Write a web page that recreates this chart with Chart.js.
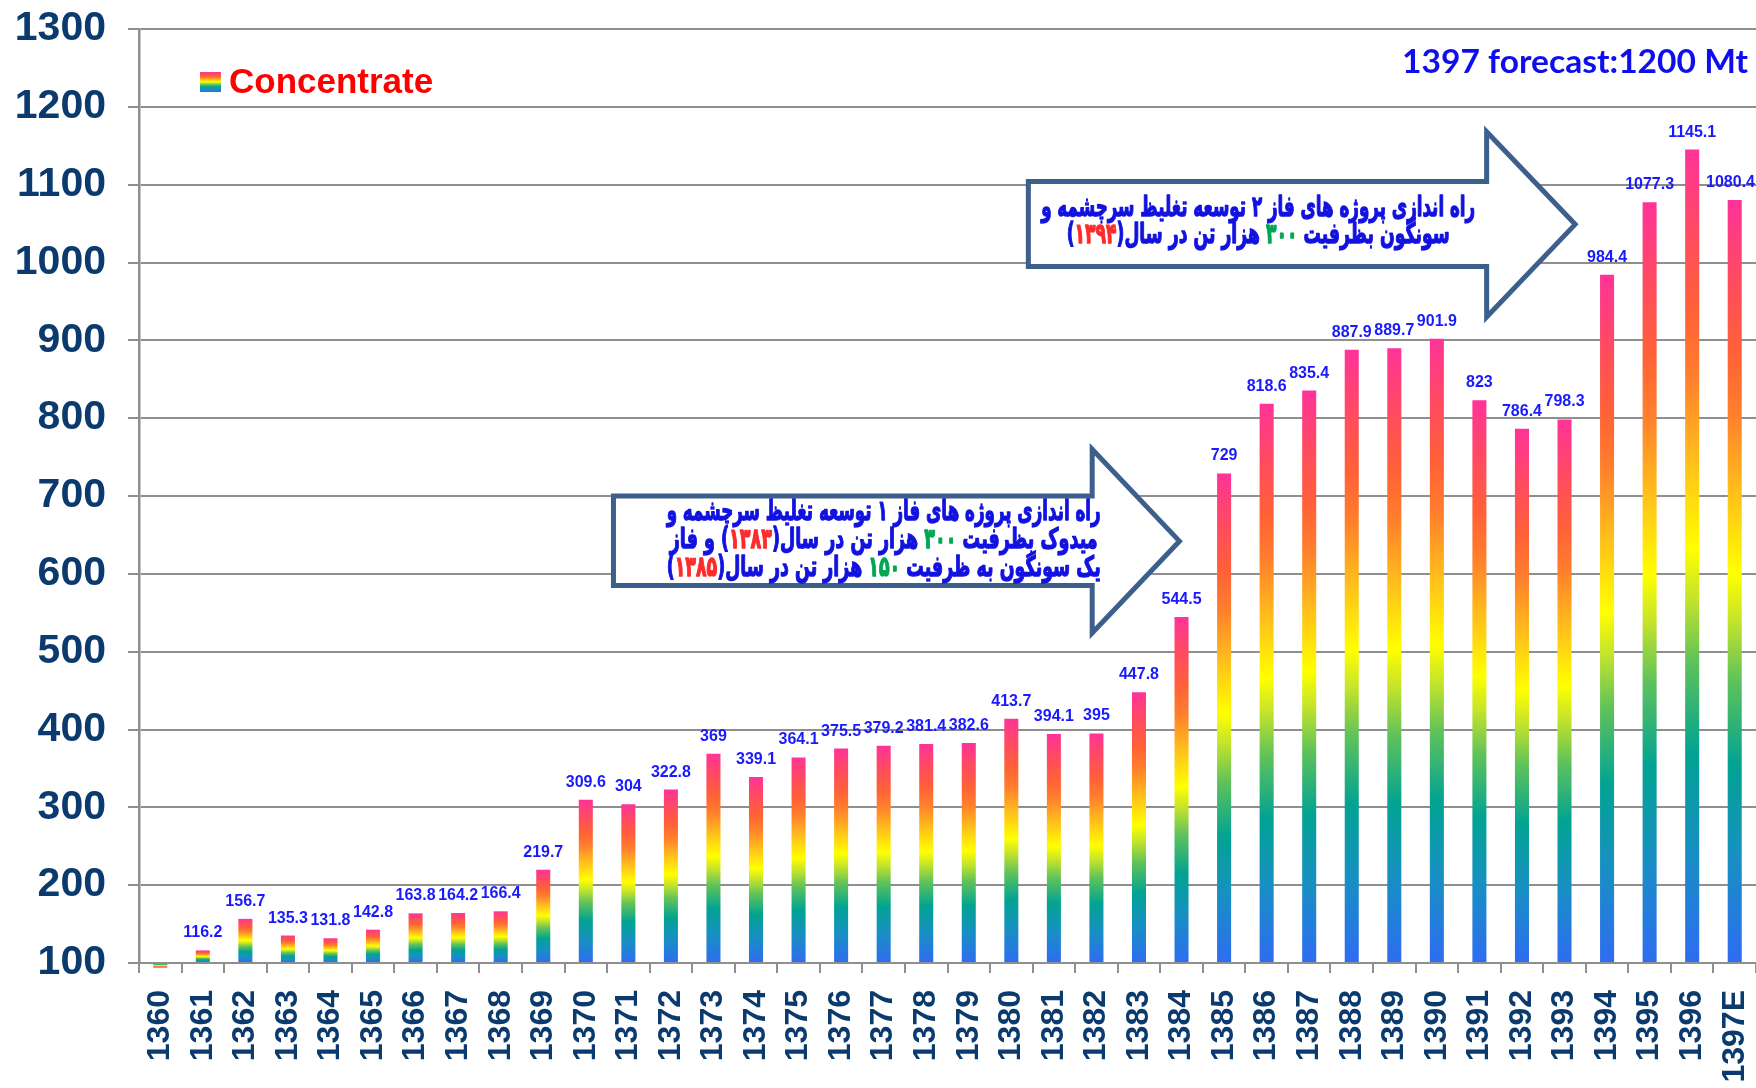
<!DOCTYPE html>
<html>
<head>
<meta charset="utf-8">
<script src="https://cdn.jsdelivr.net/npm/chart.js@4.4.1/dist/chart.umd.min.js"></script>
<style>
  html, body { margin: 0; padding: 0; background: #ffffff; }
  #ChartWrap { position: relative; width: 1756px; height: 1088px; }
</style>
</head>
<body>
<div id="ChartWrap"><canvas id="ConcentrateChart"></canvas></div>
<script>
// data
const years = [
  "1360", "1361", "1362", "1363", "1364", "1365", "1366", "1367", "1368", "1369",
  "1370", "1371", "1372", "1373", "1374", "1375", "1376", "1377", "1378", "1379",
  "1380", "1381", "1382", "1383", "1384", "1385", "1386", "1387", "1388", "1389",
  "1390", "1391", "1392", "1393", "1394", "1395", "1396", "1397E",
];
const concentrate = [
  94, 116.2, 156.7, 135.3, 131.8, 142.8, 163.8, 164.2, 166.4, 219.7,
  309.6, 304, 322.8, 369, 339.1, 364.1, 375.5, 379.2, 381.4, 382.6,
  413.7, 394.1, 395, 447.8, 544.5, 729, 818.6, 835.4, 887.9, 889.7,
  901.9, 823, 786.4, 798.3, 984.4, 1077.3, 1145.1, 1080.4,
];
const yTicks = [100, 200, 300, 400, 500, 600, 700, 800, 900, 1000, 1100, 1200, 1300];
const seriesName = "Concentrate";
const forecastNote = "1397 forecast:1200 Mt";

// arrow notes: each line is a list of [text, colour key], logical (right to left) order
const note1Lines = [
  [["راه اندازی پروژه های فاز ۱ توسعه تغلیظ سرچشمه و", "b"]],
  [["میدوک بظرفیت ", "b"], ["۳۰۰", "g"], [" هزار تن در سال(", "b"], ["۱۳۸۳", "r"], [") و فاز", "b"]],
  [["یک سونگون به ظرفیت ", "b"], ["۱۵۰", "g"], [" هزار تن در سال(", "b"], ["۱۳۸۵", "r"], [")", "b"]],
];
const note2Lines = [
  [["راه اندازی پروژه های فاز ۲ توسعه تغلیظ سرچشمه و", "b"]],
  [["سونگون بظرفیت ", "b"], ["۳۰۰", "g"], [" هزار تن در سال(", "b"], ["۱۳۹۴", "r"], [")", "b"]],
];

// styles
const navy = "#0a3a6e";
const gridGray = "#8f8f8f";
const labelBlue = "#1a1aff";
const noteColors = { b: "#1212e0", g: "#00a651", r: "#ff2a2a" };
const rainbowStops = [
  [0, "#2f6cf2"], [0.14, "#1790c2"], [0.26, "#02a392"], [0.37, "#5fc25a"],
  [0.45, "#c6e42a"], [0.51, "#ffff00"], [0.62, "#ffbd1c"], [0.72, "#ff7f2c"],
  [0.8, "#ff6137"], [0.9, "#ff4a62"], [1, "#ff3399"],
];

// arrow shapes in axis units (x: category index, y: value)
const arrow1 = { left: 10.65, base: 21.9, tip: 23.95, boxTop: 700, boxBottom: 585, headTop: 760, tipY: 642, headBottom: 524,
  textX: 17.0, textY: [679, 643, 607], widths: [434, 428, 434] };
const arrow2 = { left: 20.4, base: 31.17, tip: 33.25, boxTop: 1104, boxBottom: 995, headTop: 1168, tipY: 1049, headBottom: 930,
  textX: 25.8, textY: [1069, 1034], widths: [434, 383] };

function makeRainbow(ctx, yBottom, yTop) {
  const g = ctx.createLinearGradient(0, yBottom, 0, yTop);
  rainbowStops.forEach((s) => g.addColorStop(s[0], s[1]));
  return g;
}

function barColour(context) {
  const chart = context.chart;
  if (!chart.chartArea || context.type !== "data") return rainbowStops[0][1];
  const y = chart.scales.y;
  return makeRainbow(chart.ctx, y.getPixelForValue(yTicks[0]), y.getPixelForValue(context.raw));
}

function drawNoteLine(ctx, segs, rightX, y, width) {
  ctx.font = "bold 28px 'DejaVu Sans'";
  ctx.direction = "rtl";
  ctx.textAlign = "right";
  ctx.textBaseline = "middle";
  ctx.lineWidth = 1.3;
  ctx.lineJoin = "round";
  let total = 0;
  segs.forEach((s) => (total += ctx.measureText(s[0]).width));
  ctx.save();
  ctx.translate(rightX, y);
  ctx.scale(width / total, 1);
  let x = 0;
  segs.forEach((s) => {
    ctx.fillStyle = noteColors[s[1]];
    ctx.strokeStyle = noteColors[s[1]];
    ctx.fillText(s[0], x, 0);
    ctx.strokeText(s[0], x, 0);
    x -= ctx.measureText(s[0]).width;
  });
  ctx.restore();
}

function drawArrow(chart, a, lines) {
  const ctx = chart.ctx;
  const xs = chart.scales.x;
  const ys = chart.scales.y;
  const L = xs.getPixelForValue(a.left);
  const B = xs.getPixelForValue(a.base);
  const T = xs.getPixelForValue(a.tip);
  ctx.save();
  ctx.beginPath();
  ctx.moveTo(L, ys.getPixelForValue(a.boxTop));
  ctx.lineTo(B, ys.getPixelForValue(a.boxTop));
  ctx.lineTo(B, ys.getPixelForValue(a.headTop));
  ctx.lineTo(T, ys.getPixelForValue(a.tipY));
  ctx.lineTo(B, ys.getPixelForValue(a.headBottom));
  ctx.lineTo(B, ys.getPixelForValue(a.boxBottom));
  ctx.lineTo(L, ys.getPixelForValue(a.boxBottom));
  ctx.closePath();
  ctx.fillStyle = "#ffffff";
  ctx.fill();
  ctx.lineWidth = 5;
  ctx.lineJoin = "miter";
  ctx.strokeStyle = "#3c5f8c";
  ctx.stroke();
  const cx = xs.getPixelForValue(a.textX);
  lines.forEach((segs, i) => {
    drawNoteLine(ctx, segs, cx + a.widths[i] / 2, ys.getPixelForValue(a.textY[i]), a.widths[i]);
  });
  ctx.restore();
}

// plugins
const notesPlugin = {
  id: "notes",
  beforeDatasetsDraw(chart) {
    drawArrow(chart, arrow1, note1Lines);
    drawArrow(chart, arrow2, note2Lines);
  },
};

const valueLabelsPlugin = {
  id: "valueLabels",
  afterDatasetsDraw(chart) {
    const ctx = chart.ctx;
    const meta = chart.getDatasetMeta(0);
    ctx.save();
    ctx.font = "bold 16px 'Liberation Sans'";
    ctx.fillStyle = labelBlue;
    ctx.textAlign = "center";
    ctx.textBaseline = "alphabetic";
    meta.data.forEach((bar, i) => {
      const v = concentrate[i];
      if (v < yTicks[0]) return;
      const txt = String(v);
      // keep the last label inside the canvas
      const half = ctx.measureText(txt).width / 2;
      const x = Math.min(bar.x, chart.width - half - 1);
      ctx.fillText(txt, x, bar.y - 13);
    });
    ctx.restore();
  },
};

const legendPlugin = {
  id: "legendAndNote",
  afterDraw(chart) {
    const ctx = chart.ctx;
    const area = chart.chartArea;
    ctx.save();
    const bx = area.left + 61;
    const by = 72;
    ctx.fillStyle = makeRainbow(ctx, by + 20, by);
    ctx.fillRect(bx, by, 21, 20);
    ctx.font = "bold 35px 'Liberation Sans'";
    ctx.fillStyle = "#ff0000";
    ctx.textAlign = "left";
    ctx.textBaseline = "alphabetic";
    ctx.fillText(seriesName, bx + 29, by + 21);
    ctx.font = "bold 33px Lato";
    ctx.fillStyle = "#0f0fee";
    ctx.textAlign = "right";
    const w = ctx.measureText(forecastNote).width;
    ctx.translate(area.right - 8, 73);
    ctx.scale(346 / w, 1);
    ctx.fillText(forecastNote, 0, 0);
    ctx.restore();
  },
};

const ConcentrateChart = document.getElementById("ConcentrateChart");

new Chart(ConcentrateChart, {
  type: "bar",
  data: {
    labels: years,
    datasets: [
      {
        label: seriesName,
        data: concentrate,
        base: yTicks[0],
        backgroundColor: barColour,
        borderWidth: 0,
        categoryPercentage: 1,
        barPercentage: 0.33,
        clip: false,
      },
    ],
  },
  options: {
    responsive: true,
    maintainAspectRatio: false,
    animation: false,
    layout: { padding: { top: 29, right: 0, left: 0, bottom: 0 } },
    plugins: {
      legend: { display: false },
      tooltip: { enabled: false },
    },
    scales: {
      x: {
        offset: true,
        grid: { display: true, drawOnChartArea: false, drawTicks: true, tickLength: 10, color: gridGray, lineWidth: 2, offset: true },
        border: { display: true, color: gridGray, width: 2 },
        ticks: {
          autoSkip: false,
          maxRotation: 90,
          minRotation: 90,
          padding: 17,
          color: navy,
          font: { family: "'Liberation Sans'", size: 32, weight: "bold" },
        },
        afterFit(scale) {
          scale.height = 125;
          scale.paddingLeft = 0;
          scale.paddingRight = 0;
        },
      },
      y: {
        min: yTicks[0],
        max: yTicks[yTicks.length - 1],
        afterBuildTicks(scale) {
          scale.ticks = yTicks.map((v) => ({ value: v }));
        },
        grid: { color: gridGray, lineWidth: 2, tickLength: 11 },
        border: { display: true, color: gridGray, width: 2.5 },
        ticks: {
          padding: 22,
          color: navy,
          font: { family: "'Liberation Sans'", size: 41, weight: "bold" },
          callback: (v) => String(v),
        },
        afterFit(scale) {
          scale.width = 139;
          scale.paddingTop = 0;
          scale.paddingBottom = 0;
        },
      },
    },
  },
  plugins: [notesPlugin, valueLabelsPlugin, legendPlugin],
});
</script>
</body>
</html>
